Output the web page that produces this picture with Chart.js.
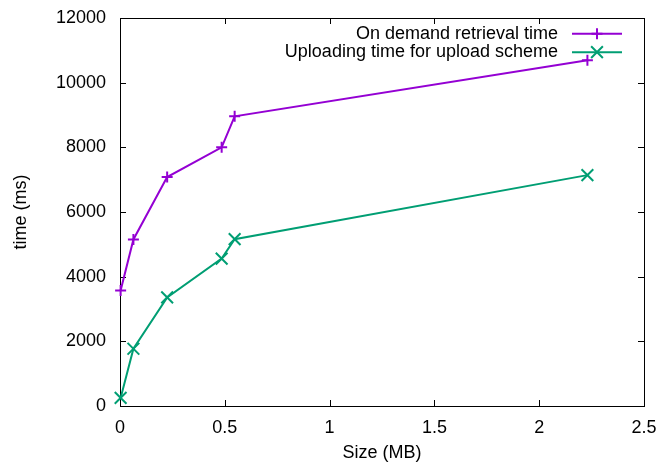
<!DOCTYPE html>
<html><head><meta charset="utf-8">
<script src="https://cdn.jsdelivr.net/npm/chart.js@4"></script>
<style>html,body{margin:0;padding:0;background:#fff;}#wrap{width:663px;height:464px;}</style>
</head><body><div id="wrap"><canvas id="c" width="663" height="464"></canvas></div>
<script>
const sizesMB = [0.003, 0.064, 0.225, 0.485, 0.547, 2.23];
const onDemandMs = [3570, 5150, 7080, 8000, 8960, 10690];
const uploadMs = [250, 1770, 3360, 4560, 5160, 7140];
const seriesLabels = ['On demand retrieval time', 'Uploading time for upload scheme'];
const seriesColors = ['#9400D3', '#009E73'];
const xTicks = [0, 0.5, 1, 1.5, 2, 2.5];
const yTicks = [0, 2000, 4000, 6000, 8000, 10000, 12000];
const xTitle = 'Size (MB)';
const yTitle = 'time (ms)';

const FONT = {family: "'Liberation Sans', Arial, sans-serif", size: 18};

function pts(ys) { return sizesMB.map((x, i) => ({x: x, y: ys[i]})); }

const frame = {
  id: 'frame',
  beforeDatasetsDraw(chart) {
    const {ctx, chartArea: a, scales} = chart;
    ctx.save();
    ctx.strokeStyle = '#000';
    ctx.lineWidth = 1;
    ctx.beginPath();
    const L = 6;
    scales.x.ticks.forEach(t => {
      const px = Math.round(scales.x.getPixelForValue(t.value)) + 0.5;
      ctx.moveTo(px, a.bottom); ctx.lineTo(px, a.bottom - L);
      ctx.moveTo(px, a.top); ctx.lineTo(px, a.top + L);
    });
    scales.y.ticks.forEach(t => {
      const py = Math.round(scales.y.getPixelForValue(t.value)) + 0.5;
      ctx.moveTo(a.left, py); ctx.lineTo(a.left + L, py);
      ctx.moveTo(a.right, py); ctx.lineTo(a.right - L, py);
    });
    ctx.stroke();
    ctx.strokeRect(Math.round(a.left) + 0.5, Math.round(a.top) + 0.5,
                   Math.round(a.right - a.left), Math.round(a.bottom - a.top));
    ctx.restore();
  },
  afterDraw(chart) {
    const {ctx, chartArea: a} = chart;
    ctx.save();
    ctx.font = FONT.size + 'px ' + FONT.family;
    ctx.textAlign = 'right';
    ctx.textBaseline = 'middle';
    chart.data.datasets.forEach((ds, i) => {
      const y = a.top + 15.8 + i * 18.4;
      ctx.fillStyle = '#000';
      ctx.fillText(ds.label, a.right - 86, y);
      ctx.strokeStyle = ds.borderColor;
      ctx.lineWidth = 2;
      ctx.beginPath();
      ctx.moveTo(a.right - 72, y); ctx.lineTo(a.right - 22, y);
      ctx.stroke();
      const cx = a.right - 47;
      const r = ds.pointRadius;
      ctx.beginPath();
      if (ds.pointStyle === 'cross') {
        ctx.moveTo(cx - r, y); ctx.lineTo(cx + r, y);
        ctx.moveTo(cx, y - r); ctx.lineTo(cx, y + r);
      } else {
        const d = r * Math.SQRT1_2;
        ctx.moveTo(cx - d, y - d); ctx.lineTo(cx + d, y + d);
        ctx.moveTo(cx - d, y + d); ctx.lineTo(cx + d, y - d);
      }
      ctx.stroke();
    });
    ctx.restore();
  }
};

new Chart(document.getElementById('c'), {
  type: 'line',
  data: {
    datasets: [
      {label: seriesLabels[0], data: pts(onDemandMs), borderColor: seriesColors[0], backgroundColor: seriesColors[0],
       borderWidth: 2, pointStyle: 'cross', pointRadius: 5.5, pointBorderWidth: 2, tension: 0, clip: false},
      {label: seriesLabels[1], data: pts(uploadMs), borderColor: seriesColors[1], backgroundColor: seriesColors[1],
       borderWidth: 2, pointStyle: 'crossRot', pointRadius: 8.3, pointBorderWidth: 2, tension: 0, clip: false}
    ]
  },
  options: {
    responsive: false,
    animation: false,
    devicePixelRatio: 1,
    layout: {padding: {top: 18, right: 19, left: 0, bottom: 0}},
    plugins: {legend: {display: false}, tooltip: {enabled: false}},
    scales: {
      x: {
        type: 'linear', min: 0, max: 2.5,
        afterBuildTicks: s => { s.ticks = xTicks.map(v => ({value: v})); },
        afterFit: s => { s.height = 58; s.paddingLeft = 0; s.paddingRight = 0; },
        grid: {display: false, drawTicks: false}, border: {display: false},
        ticks: {color: '#000', font: FONT, padding: 11, maxRotation: 0, callback: v => String(v)},
        title: {display: true, text: xTitle, color: '#000', font: FONT, padding: {top: 0, bottom: 0}}
      },
      y: {
        type: 'linear', min: 0, max: 12000,
        afterBuildTicks: s => { s.ticks = yTicks.map(v => ({value: v})); },
        afterFit: s => { s.width = 120; s.paddingTop = 0; s.paddingBottom = 0; },
        grid: {display: false, drawTicks: false}, border: {display: false},
        ticks: {color: '#000', font: FONT, padding: 14, callback: v => String(v)},
        title: {display: true, text: yTitle, color: '#000', font: FONT, padding: {top: 10, bottom: 0}}
      }
    }
  },
  plugins: [frame]
});
</script></body></html>
